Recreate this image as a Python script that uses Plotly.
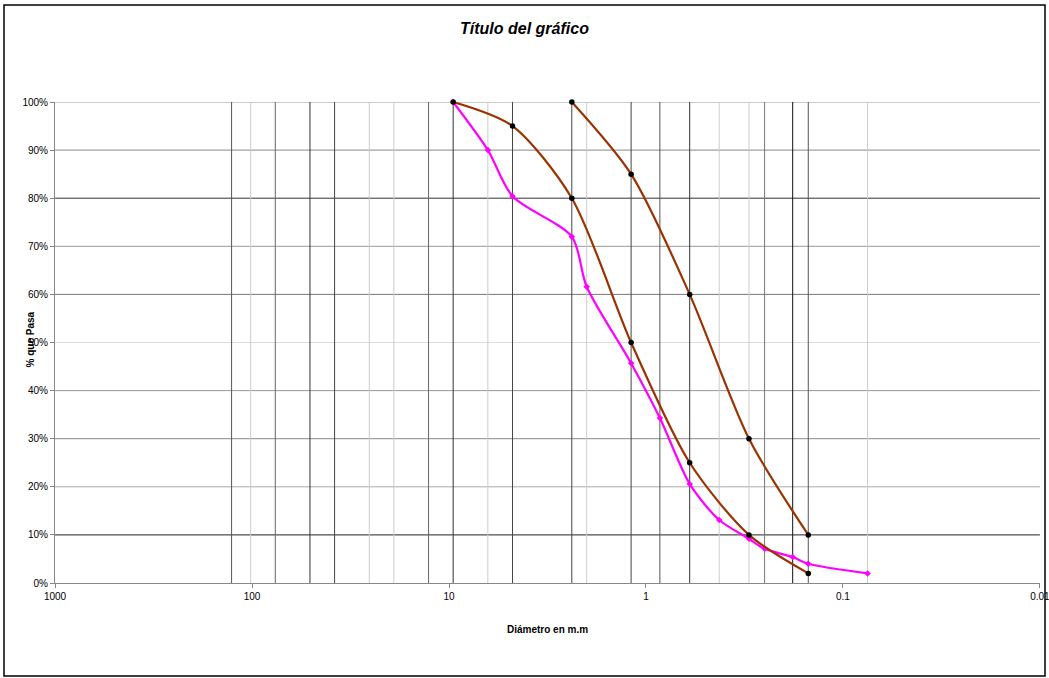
import plotly.graph_objects as go

# ---- data ----
sieve_mm = [127, 101.6, 76.2, 50.8, 38.1, 25.4, 19.05, 12.7, 9.525, 6.35, 4.76, 2.38, 2.0,
            1.19, 0.85, 0.6, 0.425, 0.3, 0.25, 0.18, 0.15, 0.075]
sieve_color = ["#555555", "#cccccc", "#666666", "#333333", "#444444", "#cccccc", "#cccccc", "#666666",
               "#333333", "#cccccc", "#444444", "#444444", "#cccccc", "#444444", "#555555", "#333333",
               "#cccccc", "#cccccc", "#777777", "#111111", "#555555", "#cccccc"]

hlines_pct = [100, 90, 80, 70, 60, 50, 40, 30, 20, 10]
hline_color = ["#999999", "#888888", "#333333", "#999999", "#777777", "#dddddd", "#999999",
               "#888888", "#aaaaaa", "#222222"]

lim1_d = [9.525, 4.76, 2.38, 1.19, 0.6, 0.3, 0.15]
lim1_p = [100, 95, 80, 50, 25, 10, 2]

lim2_d = [2.38, 1.19, 0.6, 0.3, 0.15]
lim2_p = [100, 85, 60, 30, 10]

muestra_d = [9.525, 6.35, 4.76, 2.38, 2.0, 1.19, 0.85, 0.6, 0.425, 0.3, 0.25, 0.18, 0.15, 0.075]
muestra_p = [100, 90, 80.4, 72, 61.6, 45.7, 34.3, 20.6, 13.1, 9.2, 7.1, 5.4, 4.0, 2.0]

x_ticks = [1000, 100, 10, 1, 0.1, 0.01]
x_ticktext = ["1000", "100", "10", "1", "0.1", "0.01"]
y_ticks = [0, 10, 20, 30, 40, 50, 60, 70, 80, 90, 100]
y_ticktext = ["0%", "10%", "20%", "30%", "40%", "50%", "60%", "70%", "80%", "90%", "100%"]

FONT = "Liberation Sans, Arial, sans-serif"

fig = go.Figure()

# horizontal grid lines
for p, c in zip(hlines_pct, hline_color):
    fig.add_trace(go.Scatter(x=[1000, 0.01], y=[p, p], mode="lines",
                             line=dict(color=c, width=1), hoverinfo="skip", showlegend=False))
# vertical sieve lines
for d, c in zip(sieve_mm, sieve_color):
    fig.add_trace(go.Scatter(x=[d, d], y=[0, 100], mode="lines",
                             line=dict(color=c, width=1), hoverinfo="skip", showlegend=False))

# curves
fig.add_trace(go.Scatter(x=muestra_d, y=muestra_p, mode="lines+markers",
                         line=dict(color="#ff00ff", width=2.2, shape="spline", smoothing=0.8),
                         marker=dict(color="#ff00ff", size=5, symbol="diamond"),
                         cliponaxis=False, showlegend=False))
for xd, yp in [(lim1_d, lim1_p), (lim2_d, lim2_p)]:
    fig.add_trace(go.Scatter(x=xd, y=yp, mode="lines+markers",
                             line=dict(color="#993300", width=2.2, shape="spline", smoothing=0.8),
                             marker=dict(color="#000000", size=5.5),
                             cliponaxis=False, showlegend=False))

W, H = 1049, 678
L, R, T, B = 55, 1040, 102, 583
pw, ph = R - L, B - T

def px_x(x):
    return (x - L) / pw

def px_y(y):
    return (B - y) / ph

fig.update_layout(
    width=W, height=H,
    margin=dict(l=L, r=W - R, t=T, b=H - B, autoexpand=False),
    paper_bgcolor="white", plot_bgcolor="white",
    font=dict(family=FONT, size=10, color="#000000"),
    xaxis=dict(type="log", range=[3.0003, -2.0003], tickvals=x_ticks, ticktext=x_ticktext,
               showgrid=False, zeroline=False, showline=True, linecolor="#888888", linewidth=1,
               ticks="outside", ticklen=4, tickcolor="#888888", ticklabeloverflow="allow",
               tickfont=dict(family=FONT, size=10)),
    yaxis=dict(range=[0, 100], tickvals=y_ticks, ticktext=y_ticktext,
               showgrid=False, zeroline=False, showline=True, linecolor="#888888", linewidth=1,
               ticks="outside", ticklen=4, tickcolor="#888888",
               tickfont=dict(family=FONT, size=10)),
    title=dict(text="<b><i>Título del gráfico</i></b>", x=0.5, xanchor="center",
               xref="container", yref="container", y=1 - 28 / H, yanchor="middle",
               font=dict(family=FONT, size=16, color="#000000")),
    annotations=[
        dict(text="<b>% que Pasa</b>", xref="paper", yref="paper", x=px_x(22), y=px_y(340),
             textangle=-90, showarrow=False, font=dict(family=FONT, size=10)),
        dict(text="<b>Diámetro en m.m</b>", xref="paper", yref="paper", x=px_x(547), y=px_y(637),
             showarrow=False, font=dict(family=FONT, size=10)),
    ],
    shapes=[dict(type="rect", xref="paper", yref="paper",
                 x0=px_x(4), x1=px_x(1045), y0=px_y(676), y1=px_y(5),
                 line=dict(color="#000000", width=1.5), fillcolor="rgba(0,0,0,0)", layer="above")],
)

fig.write_html("out.html", config={"displayModeBar": False},
               post_script="document.body.style.margin='0px';document.body.style.overflow='hidden';")
